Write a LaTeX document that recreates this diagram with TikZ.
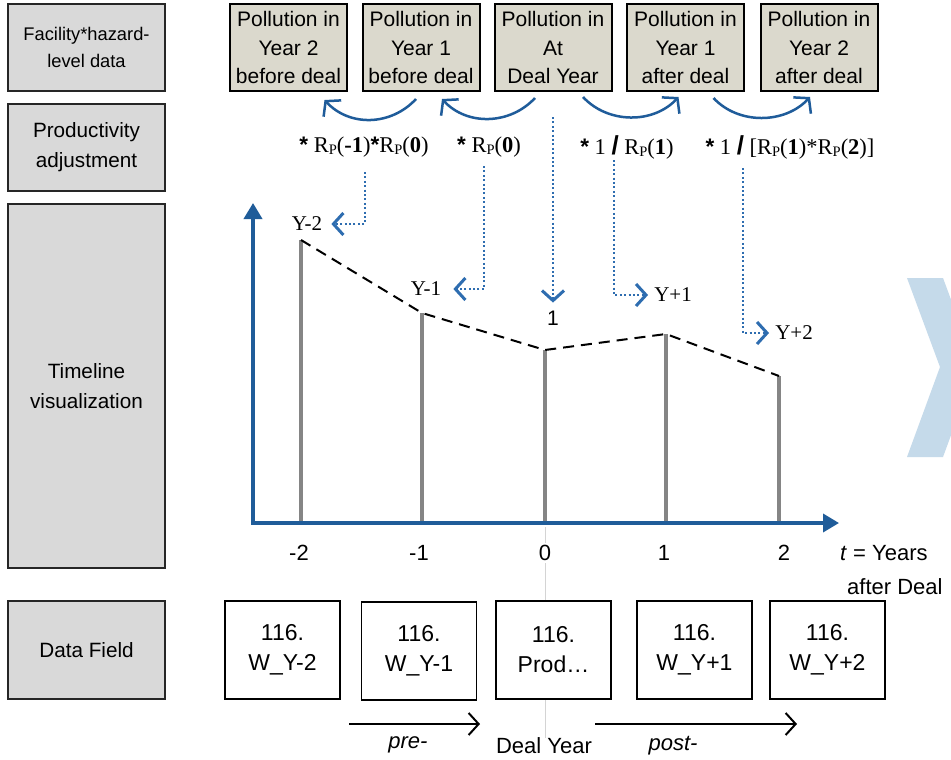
\documentclass[tikz,border=0pt]{standalone}
\usepackage{fontspec}
\setmainfont{Liberation Sans}
\newfontfamily\serif{Liberation Serif}
\newfontfamily\mainsf{Liberation Sans}
\usetikzlibrary{arrows.meta,calc}
\definecolor{lgray}{HTML}{D9D9D9}
\definecolor{tbeige}{HTML}{DBD9CD}
\definecolor{cblue}{HTML}{1F5C9A}
\definecolor{dblue}{HTML}{2E6DB0}
\definecolor{axblue}{HTML}{1F5C99}
\definecolor{chevblue}{HTML}{C5DAEA}
\definecolor{bargray}{HTML}{858585}
\definecolor{vlinegray}{HTML}{D4D4D4}
\newcommand\Rp{R\raisebox{-2.5pt}{\fontsize{14.5}{14.5}\selectfont P}}
\newcommand\bast{{\mainsf\bfseries *}}
\newcommand\bslash{{\mainsf\bfseries\fontsize{26}{26}\selectfont /}}
\tikzset{
  lbox/.style={draw=black!85, line width=1.5pt, fill=lgray, align=center, inner sep=0pt,
    minimum width=157pt, font=\fontsize{20.7}{30}\selectfont},
  tbox/.style={draw=black, line width=2pt, fill=tbeige, minimum width=117pt, minimum height=87pt,
    align=center, inner sep=0pt, font=\fontsize{21}{28.5}\selectfont},
  dbox/.style={draw=black, line width=1.5pt, fill=white, minimum width=115pt, minimum height=98pt,
    align=center, inner sep=0pt, font=\fontsize{23}{30}\selectfont},
  curv/.style={draw=cblue, line width=2.5pt, -{Straight Barb[length=10pt,width=24pt]}},
  dotarr/.style={draw=dblue, line width=2.4pt, dash pattern=on 2pt off 2.4pt, -{Straight Barb[length=10pt,width=22pt,line width=3pt]}},
  formula/.style={font=\serif\fontsize{22.5}{22.5}\selectfont, inner sep=1pt},
  ylab/.style={font=\serif\fontsize{21}{21}\selectfont, inner sep=1pt},
  axis/.style={draw=axblue, line width=3.5pt, line join=miter},
  bar/.style={draw=bargray, line width=4pt},
  trend/.style={draw=black, line width=2pt, dash pattern=on 11pt off 7pt},
  ticklab/.style={font=\fontsize{22}{22}\selectfont, inner sep=2pt},
  blarr/.style={draw=black, line width=2pt, -{Straight Barb[length=10pt,width=22pt]}},
  btxt/.style={font=\fontsize{22}{22}\selectfont, inner sep=1pt}
}
\begin{document}
\begin{tikzpicture}[x=1pt,y=-1pt]
\useasboundingbox (0,0) rectangle (951,760);
\clip (0,0) rectangle (951,760);
\fill[white] (0,0) rectangle (951,760);

% chevron
\fill[chevblue] (907,278) -- (943,278) -- (976,367) -- (943,457) -- (907,457) -- (940,367) -- cycle;

% left column
\node[lbox, minimum height=87pt, font=\fontsize{18.3}{27}\selectfont] (L1) at (86.5,47.5) {Facility*hazard-\\level data};
\node[lbox, minimum height=87pt] (L2) at (86.5,147.5) {Productivity\\adjustment};
\node[lbox, minimum height=364pt] (L3) at (86.5,386) {Timeline\\visualization};
\node[lbox, minimum height=98pt] (L4) at (86.5,650) {Data Field};

% top boxes
\node[tbox] (T1) at (288.5,47.5) {Pollution in\\Year 2\\before deal};
\node[tbox] (T2) at (421,47.5) {Pollution in\\Year 1\\before deal};
\node[tbox] (T3) at (553,47.5) {Pollution in\\At\\Deal Year};
\node[tbox] (T4) at (685.5,47.5) {Pollution in\\Year 1\\after deal};
\node[tbox] (T5) at (819,47.5) {Pollution in\\Year 2\\after deal};

% curved arrows
\draw[curv] ($(T2.south)+(-5,7)$) .. controls +(-25,27) and +(25,27) .. ($(T1.south)+(36,8)$);
\draw[curv] ($(T3.south)+(-18,6)$) .. controls +(-25,27) and +(25,27) .. ($(T2.south)+(21,7)$);
\draw[curv] ($(T3.south)+(30,5)$) .. controls +(25,27) and +(-25,27) .. ($(T4.south)+(-7,5)$);
\draw[curv] ($(T4.south)+(28,6)$) .. controls +(25,27) and +(-25,27) .. ($(T5.south)+(-9,5)$);

% formulas
\node[formula] (F1) at (364,147) {\bast\ \Rp(\textbf{-1})\bast\Rp(\textbf{0})};
\node[formula] (F2) at (489,147) {\bast\ \Rp(\textbf{0})};
\node[formula] (F3) at (627,147) {\bast\ 1 \bslash\ \Rp(\textbf{1})};
\node[formula] (F4) at (790,147) {\bast\ 1 \bslash\ [\Rp(\textbf{1})*\Rp(\textbf{2})]};

% labels on timeline
\node[ylab] (Y2) at (307,224) {Y-2};
\node[ylab] (Y1) at (426,289) {Y-1};
\node[font=\fontsize{21}{21}\selectfont, inner sep=1pt] (Y0) at (553,318) {1};
\node[ylab] (Yp1) at (673,295) {Y+1};
\node[ylab] (Yp2) at (794,333) {Y+2};

% dotted connectors
\coordinate (d1) at (365,172);
\coordinate (d2) at (484,166);
\coordinate (d3) at (553,117);
\coordinate (d4) at (614,160);
\coordinate (d5) at (743,168);
\draw[dotarr] (d1) |- ($(Y2.east)+(8,0)$);
\draw[dotarr] (d2) |- ($(Y1.east)+(11,0)$);
\draw[dotarr] (d3) -- ($(Y0.north)+(0,-7)$);
\draw[dotarr] (d4) |- ($(Yp1.west)+(-5,0)$);
\draw[dotarr] (d5) |- ($(Yp2.west)+(-5,0)$);

% thin vertical line at deal year
\draw[vlinegray, line width=1pt] (545,527) -- (545,738);

% bars
\coordinate (p1) at (301,240);
\coordinate (p2) at (422,313);
\coordinate (p3) at (545,350);
\coordinate (p4) at (666,334);
\coordinate (p5) at (779,376);
\foreach \p in {p1,p2,p3,p4,p5} { \draw[bar] (\p) -- (\p |- 0,523); }
\draw[trend] (p1) -- (p2) -- (p3) -- (p4) -- (p5);

% axes
\draw[axis, {Triangle[length=16pt,width=18pt]}-{Triangle[length=16pt,width=18pt]}] (253,203) -- (253,523) -- (839,523);

% tick labels
\node[ticklab] (k1) at (299,553) {-2};
\node[ticklab] (k2) at (419,553) {-1};
\node[ticklab, fill=white] (k3) at (545,553) {0};
\node[ticklab] (k4) at (664,553) {1};
\node[ticklab] (k5) at (784,553) {2};
\node[ticklab, anchor=west] (tl1) at (838,553) {\textit{t} = Years};
\node[ticklab, anchor=west] (tl2) at (845,587) {after Deal};

% data field boxes
\node[dbox] (D1) at (282.5,650) {116.\\W\_Y-2};
\node[dbox] (D2) at (419,651) {116.\\W\_Y-1};
\node[dbox] (D3) at (553.5,650) {116.\\Prod\dots};
\node[dbox] (D4) at (694.5,650) {116.\\W\_Y+1};
\node[dbox] (D5) at (827.5,650) {116.\\W\_Y+2};

% bottom arrows
\coordinate (a1) at (349,724);
\coordinate (a2) at (480,724);
\coordinate (a3) at (595,724);
\coordinate (a4) at (797,724);
\draw[blarr] (a1) -- (a2);
\draw[blarr] (a3) -- (a4);
\node[btxt] (pre) at (408,745) {\textit{pre-}};
\node[btxt] (dy) at (544,746) {Deal Year};
\node[btxt] (post) at (673,746) {\textit{post-}};
\end{tikzpicture}
\end{document}
